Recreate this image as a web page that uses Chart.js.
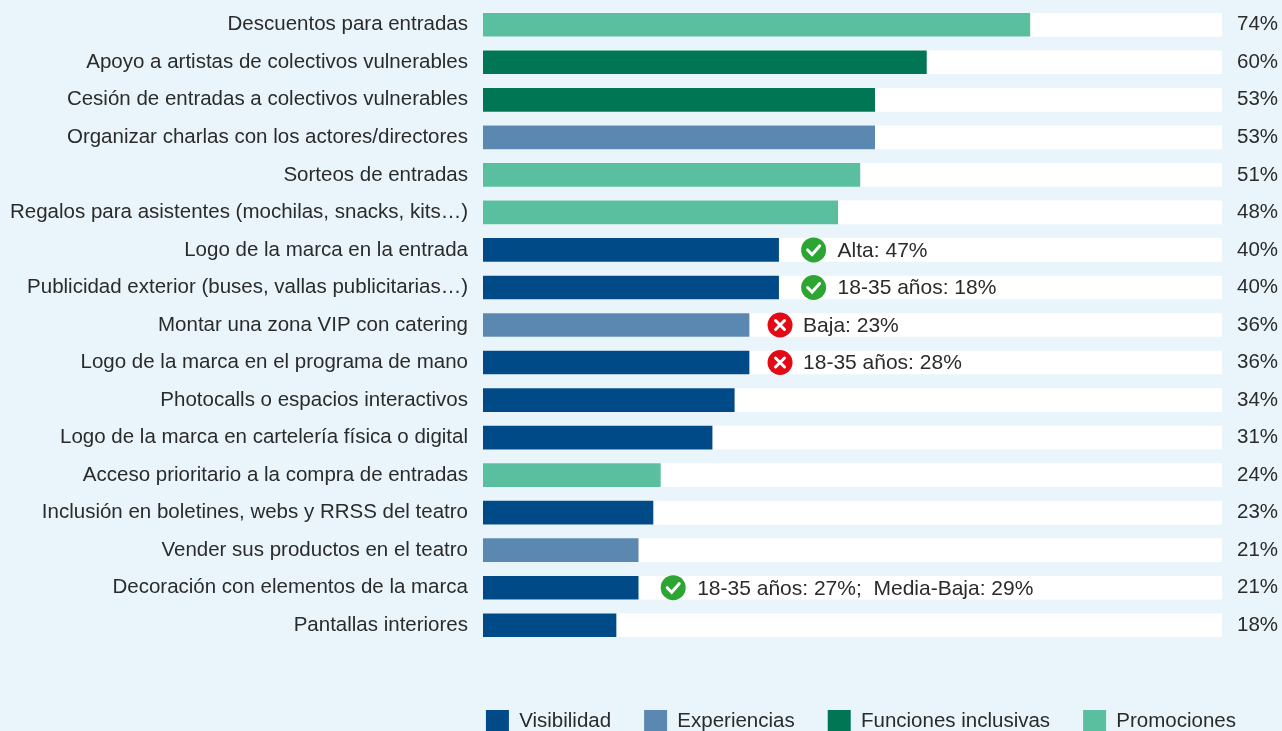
<!DOCTYPE html>
<html lang="es">
<head>
<meta charset="utf-8">
<title>Acciones de patrocinio en teatros</title>
<script src="https://cdn.jsdelivr.net/npm/chart.js@4/dist/chart.umd.min.js"></script>
<style>
    html, body { margin: 0; padding: 0; background: #e9f5fa; overflow: hidden; }
    canvas { display: block; }
</style>
</head>
<body>
<canvas id="chart" width="1282" height="731"></canvas>
<script>
const categories = [
    'Descuentos para entradas',
    'Apoyo a artistas de colectivos vulnerables',
    'Cesión de entradas a colectivos vulnerables',
    'Organizar charlas con los actores/directores',
    'Sorteos de entradas',
    'Regalos para asistentes (mochilas, snacks, kits…)',
    'Logo de la marca en la entrada',
    'Publicidad exterior (buses, vallas publicitarias…)',
    'Montar una zona VIP con catering',
    'Logo de la marca en el programa de mano',
    'Photocalls o espacios interactivos',
    'Logo de la marca en cartelería física o digital',
    'Acceso prioritario a la compra de entradas',
    'Inclusión en boletines, webs y RRSS del teatro',
    'Vender sus productos en el teatro',
    'Decoración con elementos de la marca',
    'Pantallas interiores',
];
const values = [74, 60, 53, 53, 51, 48, 40, 40, 36, 36, 34, 31, 24, 23, 21, 21, 18];
const trackValues = [100, 100, 100, 100, 100, 100, 100, 100, 100, 100, 100, 100, 100, 100, 100, 100, 100];
const groups = ['Promociones', 'Funciones inclusivas', 'Funciones inclusivas', 'Experiencias', 'Promociones', 'Promociones',
    'Visibilidad', 'Visibilidad', 'Experiencias', 'Visibilidad', 'Visibilidad', 'Visibilidad', 'Promociones', 'Visibilidad',
    'Experiencias', 'Visibilidad', 'Visibilidad'];
const groupNames = ['Visibilidad', 'Experiencias', 'Funciones inclusivas', 'Promociones'];
const groupColors = ['#004a87', '#5b88b0', '#007654', '#5abf9f'];
// segment call-outs next to a bar: row, ok or not, text
const notes = [
    { row: 6, ok: true, text: 'Alta: 47%' },
    { row: 7, ok: true, text: '18-35 años: 18%' },
    { row: 8, ok: false, text: 'Baja: 23%' },
    { row: 9, ok: false, text: '18-35 años: 28%' },
    { row: 15, ok: true, text: '18-35 años: 27%;  Media-Baja: 29%' },
];

const FONT = '"Liberation Sans", Arial, sans-serif';
const TEXT = '#2b2b2b';

const noteMarks = {
    id: 'noteMarks',
    afterLayout(chart) {
        // legend ends short of the right edge, the % axis does not
        chart.legend.right = 1269;
    },
    afterDatasetsDraw(chart) {
        const ctx = chart.ctx;
        const x = chart.scales.x;
        const y = chart.scales.y;
        ctx.save();
        notes.forEach((note) => {
            const cx = x.getPixelForValue(values[note.row]) + (note.ok ? 35 : 31);
            const cy = y.getPixelForValue(note.row);
            ctx.fillStyle = note.ok ? '#2ca532' : '#e30a16';
            ctx.beginPath();
            ctx.arc(cx, cy, 12.5, 0, Math.PI * 2);
            ctx.fill();
            ctx.strokeStyle = '#fff';
            ctx.lineWidth = 3;
            ctx.lineCap = 'round';
            ctx.beginPath();
            if (note.ok) {
                ctx.moveTo(cx - 6, cy);
                ctx.lineTo(cx - 1.5, cy + 4.5);
                ctx.lineTo(cx + 6, cy - 4);
            } else {
                ctx.moveTo(cx - 4.5, cy - 4.5);
                ctx.lineTo(cx + 4.5, cy + 4.5);
                ctx.moveTo(cx + 4.5, cy - 4.5);
                ctx.lineTo(cx - 4.5, cy + 4.5);
            }
            ctx.stroke();
            ctx.fillStyle = TEXT;
            ctx.font = '21px ' + FONT;
            ctx.textAlign = 'left';
            ctx.textBaseline = 'middle';
            ctx.fillText(note.text, cx + (note.ok ? 24 : 23), cy + 1);
        });
        ctx.restore();
    },
};

const datasets = groupNames.map((name, g) => ({
    label: name,
    data: values.map((v, i) => (groups[i] === name ? v : null)),
    backgroundColor: groupColors[g],
    barThickness: 23,
    grouped: false,
    order: 1,
}));
datasets.push({
    label: 'Total',
    data: trackValues,
    backgroundColor: '#ffffff',
    barThickness: 23,
    grouped: false,
    order: 2,
});

// tick padding also pads the ends of a vertical axis, which would squeeze the rows
function fixAxisBox(scale, width) {
    scale.width = width;
    scale.paddingTop = 0;
    scale.paddingBottom = 0;
}

new Chart(document.getElementById('chart'), {
    type: 'bar',
    data: { labels: categories, datasets: datasets },
    plugins: [noteMarks],
    options: {
        indexAxis: 'y',
        responsive: false,
        animation: false,
        layout: { padding: { top: 6, right: 0, bottom: -12, left: 0 } },
        plugins: {
            tooltip: { enabled: false },
            legend: {
                position: 'bottom',
                align: 'end',
                labels: {
                    filter: (item) => item.text !== 'Total',
                    boxWidth: 23,
                    boxHeight: 23,
                    padding: 33,
                    color: TEXT,
                    font: { family: FONT, size: 20.5 },
                },
            },
        },
        scales: {
            x: {
                min: 0,
                max: 100,
                grid: { display: false },
                border: { display: false },
                ticks: { display: false },
                afterFit: (scale) => { scale.height = 33; },
            },
            y: {
                grid: { display: false, drawTicks: false },
                border: { display: false },
                ticks: {
                    autoSkip: false,
                    padding: 15,
                    color: TEXT,
                    font: { family: FONT, size: 20.5 },
                },
                afterFit: (scale) => fixAxisBox(scale, 483),
            },
            pct: {
                type: 'category',
                position: 'right',
                offset: true,
                labels: values.map((v) => v + '%'),
                grid: { display: false, drawTicks: false },
                border: { display: false },
                ticks: {
                    autoSkip: false,
                    padding: 15,
                    color: TEXT,
                    font: { family: FONT, size: 20.5 },
                },
                afterFit: (scale) => fixAxisBox(scale, 60),
            },
        },
    },
});
</script>
</body>
</html>
